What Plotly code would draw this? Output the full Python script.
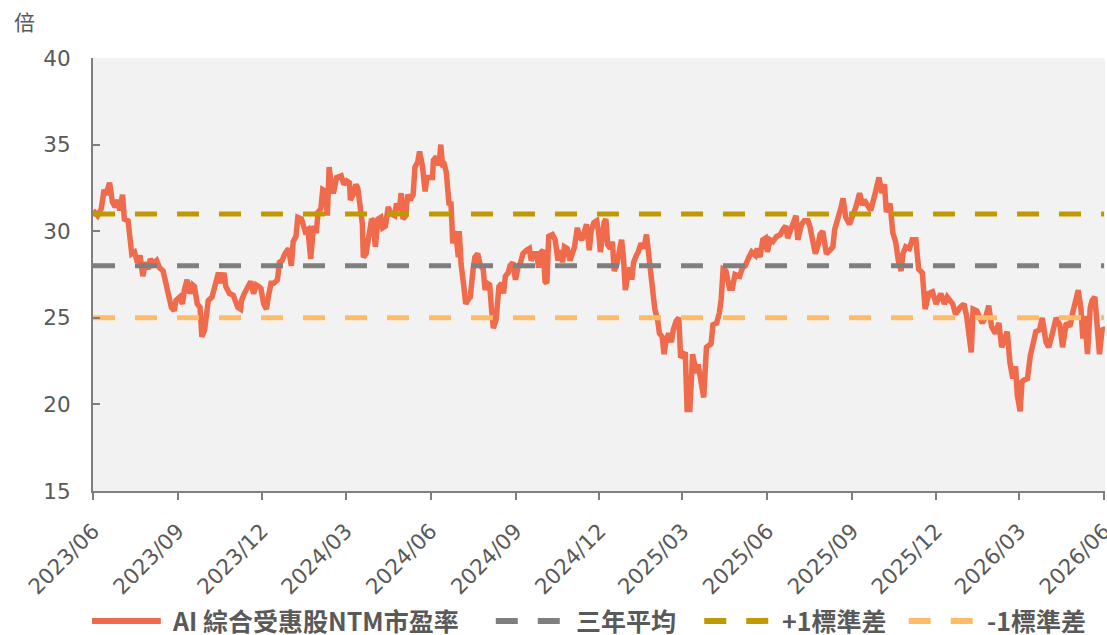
import pandas as pd
import plotly.graph_objects as go

# Observation dates, stored as day offsets from the first observation
START_DATE = "2023-06-01"
day_offsets = [
    0, 5, 9, 12, 14, 18, 21, 24, 27, 29, 32, 34, 38, 40, 42, 45, 48, 51, 54, 57,
    60, 62, 65, 69, 72, 76, 79, 83, 85, 88, 90, 94, 97, 99, 102, 105, 108, 110, 113, 116,
    118, 121, 123, 125, 129, 132, 135, 136, 139, 142, 144, 148, 152, 154, 157, 160, 161, 164, 168, 171,
    174, 177, 180, 182, 185, 188, 190, 193, 196, 200, 202, 205, 208, 210, 212, 215, 217, 220, 222, 226,
    230, 233, 236, 239, 242, 244, 247, 249, 252, 254, 256, 259, 261, 264, 267, 269, 272, 275, 278, 279,
    282, 285, 287, 290, 292, 293, 296, 299, 302, 304, 306, 309, 312, 314, 317, 320, 323, 327, 329, 332,
    334, 336, 339, 341, 344, 347, 349, 352, 354, 357, 360, 362, 365, 368, 369, 372, 375, 377, 379, 381,
    383, 386, 388, 390, 393, 396, 397, 399, 402, 404, 406, 409, 412, 414, 417, 420, 423, 425, 427, 430,
    432, 434, 437, 440, 443, 445, 447, 450, 452, 455, 458, 461, 463, 466, 470, 473, 475, 478, 481, 483,
    486, 488, 490, 492, 494, 498, 501, 504, 507, 509, 511, 514, 517, 520, 522, 525, 527, 530, 533, 535,
    538, 540, 543, 546, 548, 550, 553, 554, 556, 558, 561, 563, 565, 568, 571, 573, 575, 577, 580, 582,
    584, 586, 589, 591, 594, 597, 600, 602, 604, 607, 609, 612, 614, 617, 619, 621, 624, 627, 629, 632,
    635, 637, 639, 642, 644, 647, 650, 652, 654, 656, 659, 662, 665, 670, 672, 676, 679, 681, 683, 686,
    690, 693, 696, 701, 704, 707, 711, 714, 718, 720, 723, 726, 729, 731, 734, 737, 741, 745, 748, 751,
    753, 756, 760, 762, 764, 768, 771, 775, 777, 780, 783, 786, 788, 791, 793, 795, 799, 802, 804, 807,
    811, 813, 816, 820, 823, 827, 831, 834, 836, 840, 843, 847, 849, 852, 855, 858, 860, 864, 867, 870,
    873, 876, 878, 881, 885, 888, 892, 895, 899, 902, 906, 910, 914, 919, 923, 926, 932, 935, 940, 944,
    947, 952, 954, 958, 964, 968, 971, 974, 978, 982, 985, 989, 991, 994, 997, 1000, 1002, 1005, 1007, 1009,
    1013, 1016, 1018, 1022, 1026, 1029, 1033, 1036, 1040, 1044, 1048, 1051, 1055, 1059, 1062, 1066, 1068, 1071, 1073, 1075,
    1078, 1081, 1083, 1086, 1089, 1091, 1094, 1096,
]

# AI composite beneficiaries, NTM P/E (x)
pe_ntm = [
    31.2, 30.9, 31.3, 32.4, 32.1, 32.8, 31.7, 31.4, 31.8, 31.2, 32.1, 30.7, 30.6, 29.4, 28.7, 28.8, 28.2, 28.6, 27.4, 28.2,
    27.8, 28.4, 28.1, 28.3, 27.9, 27.7, 27.0, 26.2, 25.6, 25.4, 26.0, 26.2, 25.8, 26.6, 27.2, 26.4, 26.9, 26.8, 25.8, 25.6,
    23.9, 24.3, 25.1, 26.0, 26.2, 26.8, 27.1, 27.6, 27.0, 27.6, 26.8, 26.4, 26.3, 26.0, 25.6, 25.5, 26.0, 26.4, 26.8, 27.1,
    26.4, 26.9, 26.8, 26.7, 25.8, 25.5, 26.2, 27.0, 27.0, 27.2, 28.2, 28.3, 28.7, 28.8, 29.0, 28.0, 29.4, 29.7, 30.8, 30.7,
    30.0, 30.1, 28.4, 30.3, 29.9, 31.1, 31.3, 32.4, 32.3, 30.9, 33.7, 32.3, 32.3, 33.1, 33.2, 33.2, 32.7, 32.9, 32.8, 31.8,
    32.1, 32.7, 32.5, 31.1, 30.4, 28.5, 28.7, 29.7, 30.7, 30.6, 29.1, 30.7, 30.8, 30.2, 30.3, 31.4, 31.0, 30.9, 31.6, 31.2,
    32.2, 30.7, 30.9, 32.1, 31.8, 32.1, 33.7, 34.0, 34.6, 33.8, 32.3, 33.1, 33.1, 33.1, 34.1, 34.3, 33.8, 35.0, 33.7, 33.8,
    33.4, 31.5, 31.7, 29.3, 30.0, 28.5, 30.0, 28.1, 26.8, 25.8, 26.0, 26.2, 27.8, 28.5, 28.7, 28.0, 27.8, 26.6, 27.0, 26.9,
    25.5, 24.4, 24.9, 26.8, 27.0, 26.4, 27.4, 27.6, 28.0, 28.2, 27.2, 28.0, 28.1, 28.7, 28.9, 29.0, 28.3, 28.7, 28.7, 27.9,
    28.8, 28.9, 27.1, 27.0, 29.7, 29.8, 29.5, 28.3, 28.9, 28.2, 29.1, 29.0, 28.3, 28.7, 29.1, 30.2, 29.7, 29.5, 30.2, 30.4,
    28.9, 30.0, 30.5, 30.6, 30.0, 28.8, 29.9, 30.5, 30.7, 29.2, 29.0, 29.4, 27.7, 28.1, 29.0, 29.5, 28.5, 26.6, 27.5, 27.9,
    27.2, 28.2, 28.6, 28.8, 29.3, 29.0, 29.8, 28.9, 27.8, 26.7, 25.5, 24.9, 24.1, 23.9, 22.9, 23.6, 24.1, 23.6, 24.3, 24.8,
    25.0, 22.7, 22.8, 23.0, 19.7, 19.7, 22.9, 22.4, 21.8, 22.3, 21.3, 20.4, 23.3, 23.5, 24.6, 24.7, 25.3, 26.1, 27.8, 27.7,
    26.7, 26.7, 27.5, 27.4, 27.9, 28.0, 28.5, 28.8, 28.6, 29.0, 28.5, 29.5, 29.6, 28.8, 29.5, 29.4, 29.7, 29.8, 30.1, 30.3,
    29.6, 30.1, 30.6, 30.9, 29.5, 30.4, 30.6, 30.6, 30.3, 29.5, 28.7, 29.2, 29.8, 30.0, 29.2, 28.7, 28.9, 29.1, 30.1, 30.6,
    31.4, 31.9, 30.8, 30.4, 30.8, 31.4, 32.2, 31.5, 31.8, 31.5, 31.2, 32.0, 32.6, 33.1, 32.2, 32.7, 31.1, 31.6, 29.9, 29.4,
    28.3, 27.7, 28.7, 29.1, 29.0, 29.5, 29.5, 27.8, 27.6, 25.5, 26.4, 26.5, 25.8, 26.4, 25.8, 26.2, 25.8, 25.2, 25.6, 25.8,
    25.1, 23.0, 25.5, 25.4, 24.7, 25.1, 25.7, 24.5, 24.1, 24.7, 23.3, 24.1, 24.2, 22.4, 21.5, 22.2, 20.5, 19.6, 21.3, 21.4,
    21.5, 22.8, 23.3, 24.2, 24.3, 25.0, 23.6, 23.3, 24.1, 25.0, 24.6, 23.3, 24.7, 24.5, 25.3, 26.0, 26.6, 25.5, 23.8, 25.1,
    22.9, 25.6, 26.0, 26.2, 23.7, 22.9, 24.4, 24.3,
]

# Three-year average and one-standard-deviation bands
AVG_3Y = 28.0
PLUS_1SD = 31.0
MINUS_1SD = 25.0

series_names = ["AI 綜合受惠股NTM市盈率", "三年平均", "+1標準差", "-1標準差"]
series_colors = ["#F06A4C", "#7F7F7F", "#BF9900", "#FFBB66"]

dates = pd.Timestamp(START_DATE) + pd.to_timedelta(day_offsets, unit="D")
x_span = [pd.Timestamp("2023-06-01"), pd.Timestamp("2026-06-01")]

TICK_FONT = dict(family="DejaVu Sans", size=21.5, color="#595959")
AXIS_GREY = "#7F7F7F"
DASH = "22px,20px"

fig = go.Figure()
fig.add_trace(go.Scatter(
    x=dates, y=pe_ntm, mode="lines", name=series_names[0],
    line=dict(color=series_colors[0], width=5.5), showlegend=False,
))
for name, color, level in zip(series_names[1:], series_colors[1:], [AVG_3Y, PLUS_1SD, MINUS_1SD]):
    fig.add_trace(go.Scatter(
        x=x_span, y=[level, level], mode="lines", name=name,
        line=dict(color=color, width=5, dash=DASH), showlegend=False,
    ))

# Legend row under the axis: line samples as shapes, labels as annotations
LEG_LINE_Y = -0.300
LEG_TEXT_Y = -0.298
legend_items = [
    (-0.001, 0.067, 0.076, None),
    (0.398, 0.462, 0.475, DASH),
    (0.604, 0.668, 0.679, DASH),
    (0.806, 0.870, 0.881, DASH),
]
shapes = []
annotations = []
for (x0, x1, xt, dash), name, color in zip(legend_items, series_names, series_colors):
    shapes.append(dict(
        type="line", xref="paper", yref="paper", x0=x0, x1=x1, y0=LEG_LINE_Y, y1=LEG_LINE_Y,
        line=dict(color=color, width=6, dash=dash or "solid"),
    ))
    annotations.append(dict(
        xref="paper", yref="paper", x=xt, y=LEG_TEXT_Y, xanchor="left", yanchor="middle",
        text=f"<b>{name}</b>", showarrow=False,
        font=dict(family="Noto Sans CJK TC", size=25, color="#595959"),
    ))

# Unit label above the value axis
annotations.append(dict(
    xref="paper", yref="paper", x=-0.068, y=1.0855, xanchor="center", yanchor="middle",
    text="倍", showarrow=False,
    font=dict(family="Noto Sans CJK TC", size=21, color="#595959"),
))

fig.update_layout(
    width=1107, height=635,
    margin=dict(l=93, r=2, t=58, b=144, autoexpand=False),
    paper_bgcolor="white", plot_bgcolor="#F2F2F2",
    shapes=shapes, annotations=annotations,
    showlegend=False,
)
fig.update_xaxes(
    type="date", range=["2023-06-01", "2026-06-02"],
    tick0="2023-06-01", dtick="M3", tickformat="%Y/%m", tickangle=-45,
    ticks="outside", ticklen=7, tickwidth=2, tickcolor=AXIS_GREY,
    showline=True, linecolor=AXIS_GREY, linewidth=2,
    showgrid=False, zeroline=False, tickfont=TICK_FONT,
    ticklabeloverflow="allow", ticklabelstandoff=10, automargin=False,
)
fig.update_yaxes(
    range=[15, 40], dtick=5, tick0=15,
    ticks="inside", ticklen=7, tickwidth=2, tickcolor=AXIS_GREY,
    showline=True, linecolor=AXIS_GREY, linewidth=2,
    showgrid=False, zeroline=False, tickfont=TICK_FONT, ticklabelstandoff=16,
    automargin=False,
)

fig.write_html("out.html")
